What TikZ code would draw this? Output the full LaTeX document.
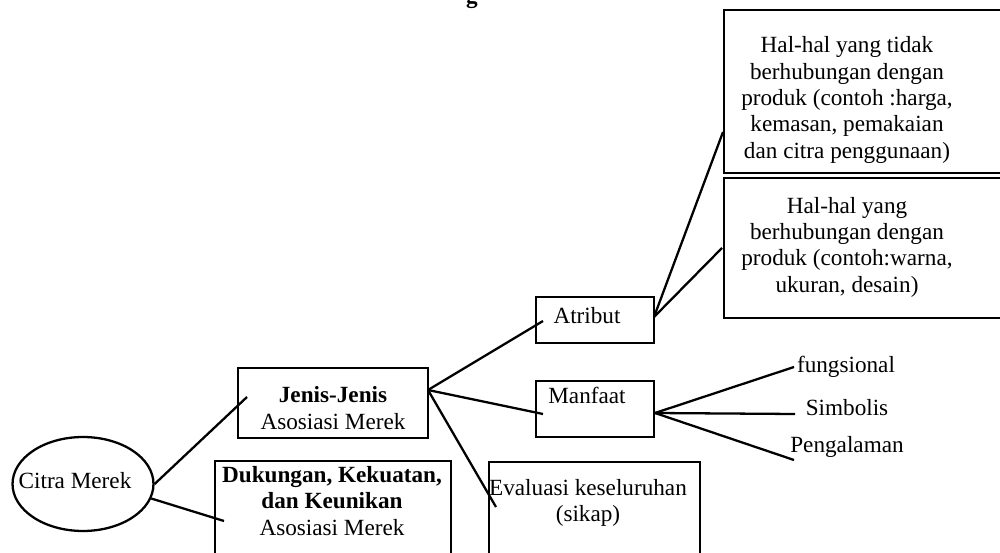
\documentclass[tikz,border=0pt]{standalone}
\usepackage{fontspec}
\setmainfont{Liberation Serif}
\usetikzlibrary{shapes.geometric}

\begin{document}
\begin{tikzpicture}[x=0.02cm, y=-0.02cm,
    kotak/.style={rectangle, draw=black, line width=1.6pt, inner sep=0pt},
    elips/.style={ellipse, draw=black, line width=1.3pt, inner sep=0pt},
    teks/.style={align=center, inner sep=0pt,
        font=\fontsize{13.2}{15}\selectfont},
    garis/.style={line width=1.3pt, -}
]
    \clip (0,0) rectangle (1000,553);
    % judul (terpotong)
    \node[teks, font={\fontsize{13.2}{15}\selectfont\bfseries}, anchor=south] (judul) at (472,9) {g};
    % kotak-kotak
    \node[elips, minimum width=2.82cm, minimum height=1.88cm] (citra) at (83,484) {};
    \node[kotak, minimum width=3.8cm, minimum height=1.4cm] (jenis) at (333,403) {};
    \node[kotak, minimum width=4.72cm, minimum height=3.18cm] (dukungan) at (333,540.5) {};
    \node[kotak, minimum width=4.22cm, minimum height=3.16cm] (evaluasi) at (594.5,541) {};
    \node[kotak, minimum width=2.36cm, minimum height=0.92cm] (atribut) at (595,320) {};
    \node[kotak, minimum width=2.36cm, minimum height=1.12cm] (manfaat) at (595,409) {};
    \node[kotak, minimum width=6.72cm, minimum height=3.26cm] (tidak) at (892,91.5) {};
    \node[kotak, minimum width=6.72cm, minimum height=2.8cm] (produk) at (892,248) {};
    % teks
    \node[teks] (citraT) at (75,481) {Citra Merek};
    \node[teks] (jenisT) at (333,408) {\textbf{Jenis-Jenis}\\Asosiasi Merek};
    \node[teks] (dukunganT) at (332,501) {\textbf{Dukungan, Kekuatan,}\\\textbf{dan Keunikan}\\Asosiasi Merek};
    \node[teks] (evaluasiT) at (588,503) {Evaluasi keseluruhan\\(sikap)};
    \node[teks] (atributT) at (587,316) {Atribut};
    \node[teks] (manfaatT) at (587,395) {Manfaat};
    \node[teks] (tidakT) at (847,100) {Hal-hal yang tidak\\berhubungan dengan\\produk (contoh :harga,\\kemasan, pemakaian\\dan citra penggunaan)};
    \node[teks] (produkT) at (847,247) {Hal-hal yang\\berhubungan dengan\\produk (contoh:warna,\\ukuran, desain)};
    \node[teks] (fungsional) at (846,367) {fungsional};
    \node[teks] (simbolis) at (847,408) {Simbolis};
    \node[teks] (pengalaman) at (847,447) {Pengalaman};
    % ujung garis
    \coordinate (cj) at (247,397);
    \coordinate (cd) at (224,521);
    \coordinate (js) at (428,390);
    \coordinate (ja) at (543,321);
    \coordinate (jm) at (543,414);
    \coordinate (je) at (496,507);
    \coordinate (as) at (654,317);
    \coordinate (at) at (723,132);
    \coordinate (ap) at (722,248);
    \coordinate (ms) at (655,413);
    \coordinate (mf) at (794,367);
    \coordinate (mb) at (795,414);
    \coordinate (mp) at (794,460);
    % garis
    \draw[garis] (citra.east) -- (cj);
    \draw[garis] (citra.-12) -- (cd);
    \draw[garis] (js) -- (ja);
    \draw[garis] (js) -- (jm);
    \draw[garis] (js) -- (je);
    \draw[garis] (as) -- (at);
    \draw[garis] (as) -- (ap);
    \draw[garis] (ms) -- (mf);
    \draw[garis] (ms) -- (mb);
    \draw[garis] (ms) -- (mp);
\end{tikzpicture}
\end{document}
